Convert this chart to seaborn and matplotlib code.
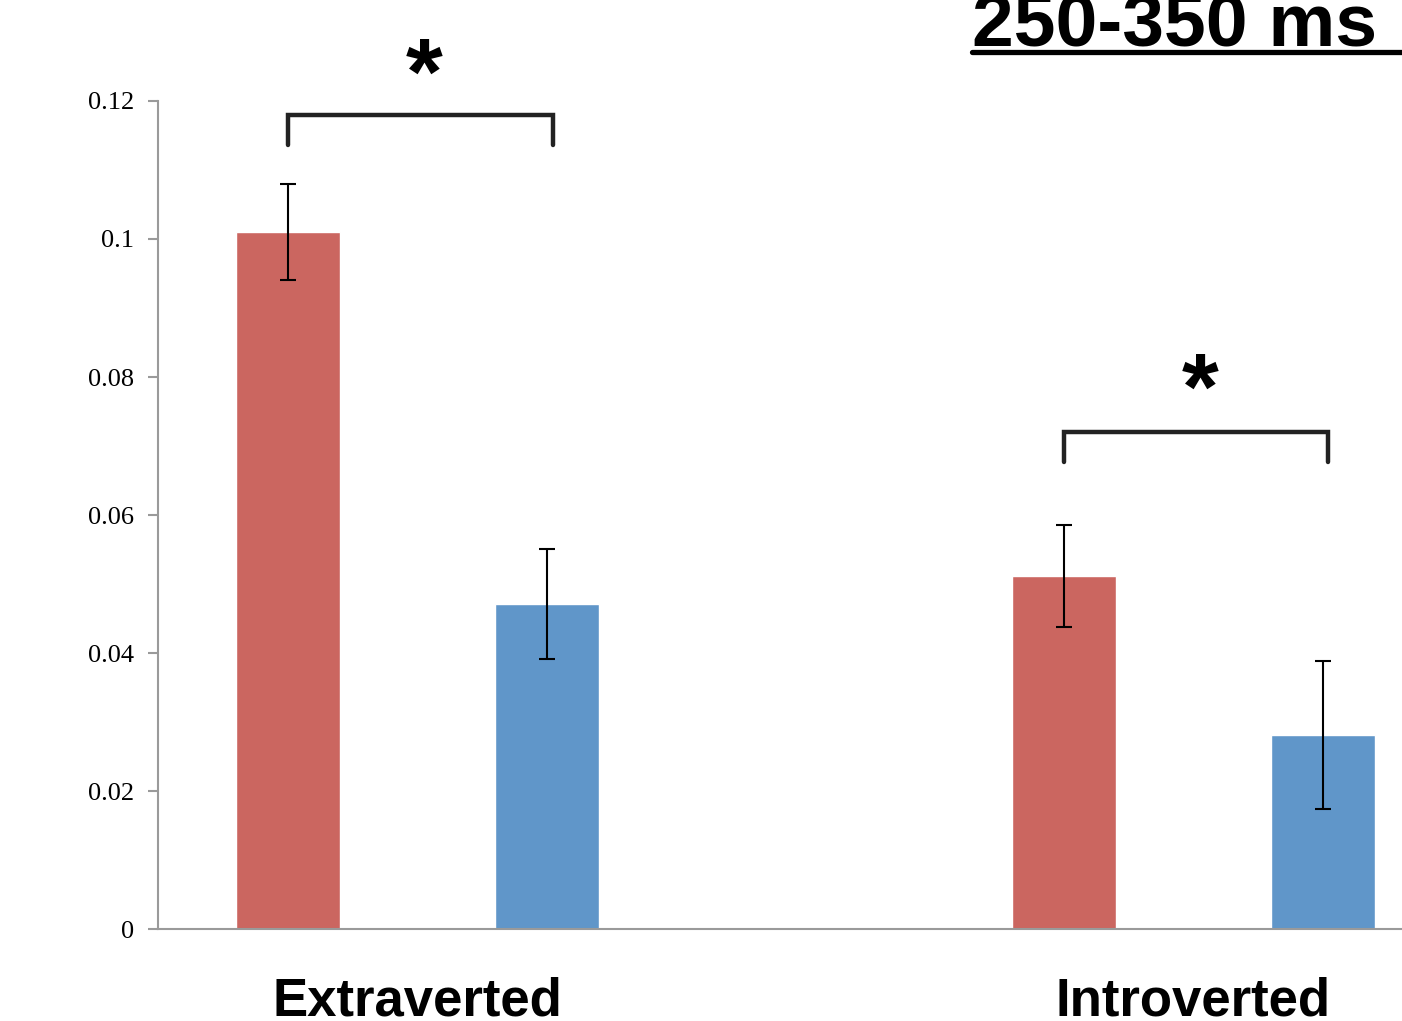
import numpy as np
import pandas as pd
import matplotlib
matplotlib.use("Agg")
import matplotlib.pyplot as plt
import seaborn as sns
from matplotlib.lines import Line2D

# data
groups = ["Extraverted", "Introverted"]
conditions = ["A", "B"]
values_a = [0.101, 0.0512]
values_b = [0.0471, 0.0281]
errors_a = [0.007, 0.0074]
errors_b = [0.008, 0.0107]
yticks = [0, 0.02, 0.04, 0.06, 0.08, 0.1, 0.12]
ytick_labels = ["0", "0.02", "0.04", "0.06", "0.08", "0.1", "0.12"]
title = "250-350 ms"

df = pd.DataFrame({
    "group": groups * 2,
    "cond": ["A"] * 2 + ["B"] * 2,
    "value": values_a + values_b,
    "err": errors_a + errors_b,
})

sns.set_style("white")
plt.rcParams["text.color"] = "black"
plt.rcParams["xtick.color"] = "black"
plt.rcParams["ytick.color"] = "black"

fig = plt.figure(figsize=(14.02, 10.21), dpi=100)
ax = fig.add_axes([158 / 1402, 1 - 929 / 1021, 1 - 158 / 1402, (929 - 101) / 1021])

sns.barplot(data=df, x="group", y="value", hue="cond", order=groups,
            hue_order=conditions, palette=["#CB6660", "#6096C9"],
            width=0.668, gap=0.6, errorbar=None, legend=False, ax=ax,
            saturation=1)

# error bars from the bar centres
for patch, (_, row) in zip(ax.patches, df.sort_values(["cond", "group"]).iterrows()):
    xc = patch.get_x() + patch.get_width() / 2
    ax.errorbar(xc, row["value"], yerr=row["err"], fmt="none", ecolor="black",
                elinewidth=1.5, capsize=6, capthick=1.5)

ax.set_xlim(-0.3344, 1.2687)
ax.set_ylim(0, 0.12)
ax.set_yticks(yticks)
ax.set_yticklabels(ytick_labels, fontfamily="Liberation Serif", fontsize=19, color="black")
ax.set_xticks([0, 1])
ax.set_xticklabels(groups, fontfamily="Liberation Sans", fontweight="bold", fontsize=38, color="black")
ax.tick_params(axis="x", length=0, pad=34)
ax.tick_params(axis="y", length=7, width=1.5, color="#9a9a9a", direction="out", left=True, pad=10)
ax.set_xlabel("")
ax.set_ylabel("")
for s in ["top", "right"]:
    ax.spines[s].set_visible(False)
for s in ["left", "bottom"]:
    ax.spines[s].set_color("#9a9a9a")
    ax.spines[s].set_linewidth(1.5)

# significance brackets
centres = [p.get_x() + p.get_width() / 2 for p in ax.patches[:4]]
brackets = [(centres[0], centres[2] + 0.008, 0.118, 0.1136, 0.1232),
            (centres[1], centres[3] + 0.006, 0.0720, 0.0677, 0.0775)]
for x0, x1, ytop, ybot, ystar in brackets:
    ax.plot([x0, x0, x1, x1], [ybot, ytop, ytop, ybot], color="#222222",
            lw=3.2, clip_on=False, solid_joinstyle="miter")
    ax.text((x0 + x1) / 2 + 0.005, ystar, "*", ha="center", va="center", color="black",
            fontsize=68, fontweight="bold", fontfamily="Liberation Sans", clip_on=False)

fig.text(972 / 1402, 1 - 45 / 1021, title, ha="left", va="baseline", color="black",
         fontsize=54, fontweight="bold", fontfamily="Liberation Sans")
fig.add_artist(Line2D([972 / 1402, 1.0], [1 - 52 / 1021] * 2, color="black", lw=3.8))

fig.savefig("out.png", dpi=100)
